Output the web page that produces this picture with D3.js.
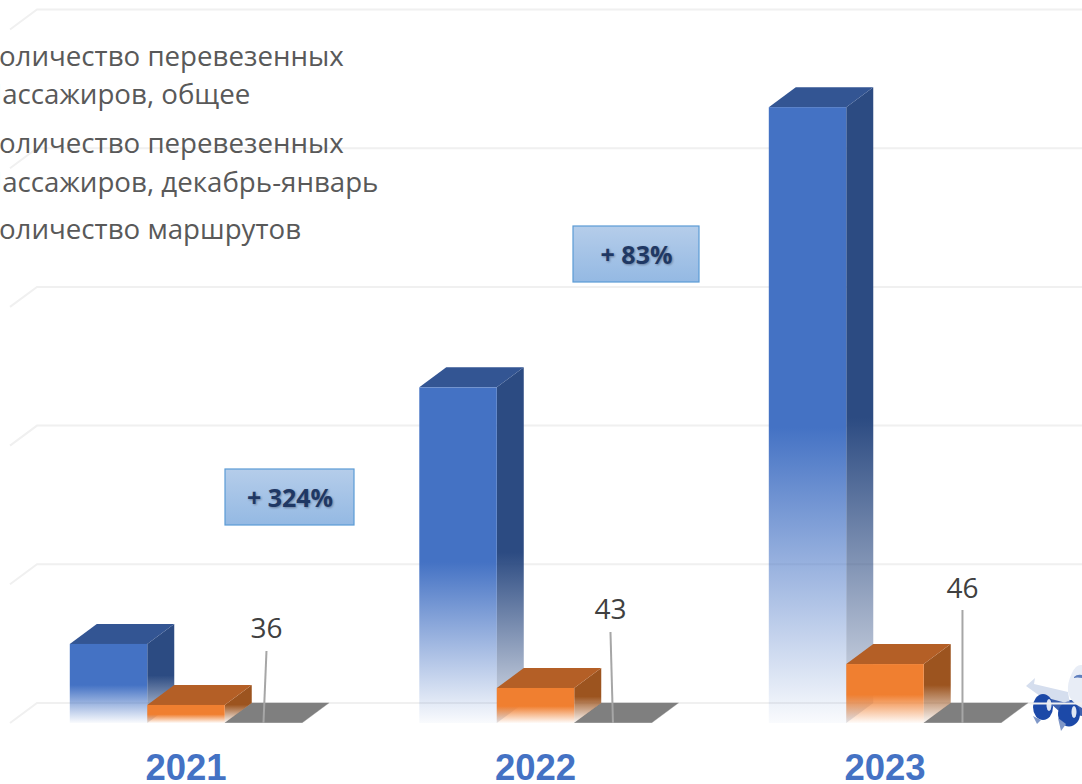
<!DOCTYPE html>
<html>
<head>
<meta charset="utf-8">
<script src="https://cdn.jsdelivr.net/npm/d3@7"></script>
<style>
html, body { margin: 0; padding: 0; background: #fff; overflow: hidden; }
</style>
</head>
<body>
<script>
var years = ["2021", "2022", "2023"];
var seriesNames = ["total", "winter", "routes"];
var totalPassengers = [11400, 48400, 88800];
var winterPassengers = [2600, 5050, 8500];
var routes = [36, 43, 46];
var gridTicks = [0, 20000, 40000, 60000, 80000, 100000];
var legendLines = [
    ["Количество перевезенных", "Пассажиров, общее"],
    ["Количество перевезенных", "Пассажиров, декабрь-январь"],
    ["Количество маршрутов"]
];
var growthLabels = ["+ 324%", "+ 83%"];

var width = 1082, height = 784;
var depth = { x: 27, y: -20 };
var baseY = 723;

var svg = d3.select("body").append("svg")
    .attr("width", width)
    .attr("height", height)
    .style("display", "block");

var y = d3.scaleLinear().domain([0, 100000]).range([baseY, 29.5]);
var x0 = d3.scaleBand().domain(years).range([11.25, 1059.75]).paddingInner(0.335).paddingOuter(0.1675);
var x1 = d3.scaleBand().domain(seriesNames).range([0, x0.bandwidth()]);

var defs = svg.append("defs");
function fade(id, color, endOpacity) {
    var g = defs.append("linearGradient").attr("id", id)
        .attr("x1", 0).attr("y1", 0).attr("x2", 0).attr("y2", 1);
    g.append("stop").attr("offset", "52%").attr("stop-color", color);
    g.append("stop").attr("offset", "100%").attr("stop-color", color).attr("stop-opacity", endOpacity);
}
fade("blueFront", "#4472c4", 0.03);
fade("blueSide", "#2c4b82", 0.15);
fade("orangeFront", "#f07f30", 0.03);
fade("orangeSide", "#9c541f", 0.03);

var boxGrad = defs.append("linearGradient").attr("id", "boxFill")
    .attr("x1", 0).attr("y1", 0).attr("x2", 0).attr("y2", 1);
boxGrad.append("stop").attr("offset", "0%").attr("stop-color", "#b5cdea");
boxGrad.append("stop").attr("offset", "100%").attr("stop-color", "#94b9e3");

var blur = defs.append("filter").attr("id", "textShadow");
blur.append("feGaussianBlur").attr("stdDeviation", 1.2);
var soft = defs.append("filter").attr("id", "soft");
soft.append("feGaussianBlur").attr("stdDeviation", 0.7);

// gridlines on the back wall plus the short floor edge
var grid = svg.append("g").attr("fill", "none").attr("stroke", "#f0f0f0").attr("stroke-width", 2);
gridTicks.forEach(function (t) {
    var yy = y(t);
    grid.append("path")
        .attr("d", d3.line()([[10, yy], [10 + depth.x, yy + depth.y], [width, yy + depth.y]]));
});

// plane logo at the right edge
var plane = svg.append("g").attr("filter", "url(#soft)");
plane.append("path").attr("fill", "#3a5fae")
    .attr("d", "M1040,694 L1070,700 L1082,700 L1082,716 L1060,712 Z");
plane.append("path").attr("fill", "#d5deee")
    .attr("d", "M1026,686 L1035,678 L1034,684 L1068,692 L1070,704 L1040,696 Z");
plane.append("path").attr("fill", "#e8edf6")
    .attr("d", "M1082,665 Q1076,664 1072,673 Q1067,683 1068,692 Q1070,702 1082,708 Z");
plane.append("path").attr("fill", "#5f7fbe")
    .attr("d", "M1074,677 Q1077,674 1082,675 L1082,678 Q1077,677 1074,678 Z");
plane.append("ellipse").attr("cx", 1043).attr("cy", 707).attr("rx", 10).attr("ry", 13).attr("fill", "#1f49a8");
plane.append("ellipse").attr("cx", 1069).attr("cy", 714).attr("rx", 11).attr("ry", 12.5).attr("fill", "#1f49a8");
plane.append("ellipse").attr("cx", 1049).attr("cy", 705).attr("rx", 2.5).attr("ry", 6).attr("fill", "#dfe6f3");
plane.append("ellipse").attr("cx", 1074).attr("cy", 712).attr("rx", 2.5).attr("ry", 6).attr("fill", "#dfe6f3");
plane.append("path").attr("fill", "#7f97c8").attr("d", "M1058,718 L1066,724 L1061,731 Z");
plane.append("path").attr("fill", "#7f97c8").attr("d", "M1033,716 L1041,720 L1037,724 Z");
svg.append("path").attr("fill", "none").attr("stroke", "#f0f0f0").attr("stroke-width", 2)
    .attr("d", "M1030,703.5 L1082,703.5");

// draws one 3D box from a value
function box(g, left, w, value, front, side, top) {
    var yTop = y(value);
    g.append("path").attr("fill", side)
        .attr("d", d3.line()([[left + w, yTop], [left + w + depth.x, yTop + depth.y],
            [left + w + depth.x, baseY + depth.y], [left + w, baseY]]) + "Z");
    g.append("path").attr("fill", top)
        .attr("d", d3.line()([[left, yTop], [left + depth.x, yTop + depth.y],
            [left + w + depth.x, yTop + depth.y], [left + w, yTop]]) + "Z");
    g.append("rect").attr("x", left).attr("y", yTop).attr("width", w)
        .attr("height", baseY - yTop).attr("fill", front);
}

var leaderTops = [651, 632, 610];
var leaderShift = [3, -2.5, 0];
var labelBase = [638, 619, 598];

years.forEach(function (yr, i) {
    var g = svg.append("g");
    var left = x0(yr);
    var w = x1.bandwidth();

    // flat routes box first so the neighbours sit on top of it
    box(g, left + x1("routes"), w, routes[i], "#7f7f7f", "#7f7f7f", "#7f7f7f");
    box(g, left + x1("total"), w, totalPassengers[i], "url(#blueFront)", "url(#blueSide)", "#335593");
    box(g, left + x1("winter"), w, winterPassengers[i], "url(#orangeFront)", "url(#orangeSide)", "#b45f26");

    var cx = left + x1("routes") + w / 2;
    g.append("line")
        .attr("x1", cx + leaderShift[i]).attr("y1", leaderTops[i])
        .attr("x2", cx).attr("y2", baseY)
        .attr("stroke", "#a6a6a6").attr("stroke-width", 2);
    g.append("text")
        .attr("x", cx + leaderShift[i])
        .attr("y", labelBase[i])
        .attr("text-anchor", "middle")
        .attr("font-family", "'Open Sans', sans-serif")
        .attr("font-size", 28)
        .attr("fill", "#404040")
        .text(routes[i]);

    svg.append("text")
        .attr("x", left + x0.bandwidth() / 2)
        .attr("y", 780)
        .attr("text-anchor", "middle")
        .attr("font-family", "'Liberation Sans', Arial, sans-serif")
        .attr("font-weight", "bold")
        .attr("font-size", 36.5)
        .attr("fill", "#4472c4")
        .text(yr);
});

// growth callouts
var callouts = [
    { x: 225, y: 469, w: 129, h: 56, label: growthLabels[0] },
    { x: 573, y: 226, w: 126, h: 56, label: growthLabels[1] }
];
callouts.forEach(function (c) {
    svg.append("rect").attr("x", c.x).attr("y", c.y).attr("width", c.w).attr("height", c.h)
        .attr("fill", "url(#boxFill)").attr("stroke", "#5b9bd5").attr("stroke-width", 1.2);
    var tx = c.x + c.w / 2 + 0.5, ty = c.y + 38;
    [["#6a7f9e", 1, 1, "url(#textShadow)"], ["#1f3864", 0, 0, null]].forEach(function (s) {
        svg.append("text")
            .attr("x", tx + s[1]).attr("y", ty + s[2])
            .attr("text-anchor", "middle")
            .attr("font-family", "'Open Sans', sans-serif")
            .attr("font-weight", "bold")
            .attr("font-size", 25)
            .attr("fill", s[0])
            .attr("filter", s[3])
            .text(c.label);
    });
});

// legend, cut off by the left edge like in the source slide
var legendY = [[66, 104], [153, 192], [239]];
legendLines.forEach(function (lines, i) {
    lines.forEach(function (line, j) {
        svg.append("text")
            .attr("x", -18)
            .attr("y", legendY[i][j])
            .attr("font-family", "'Open Sans', sans-serif")
            .attr("font-size", 27.7)
            .attr("fill", "#595959")
            .text(line);
    });
});
</script>
</body>
</html>
